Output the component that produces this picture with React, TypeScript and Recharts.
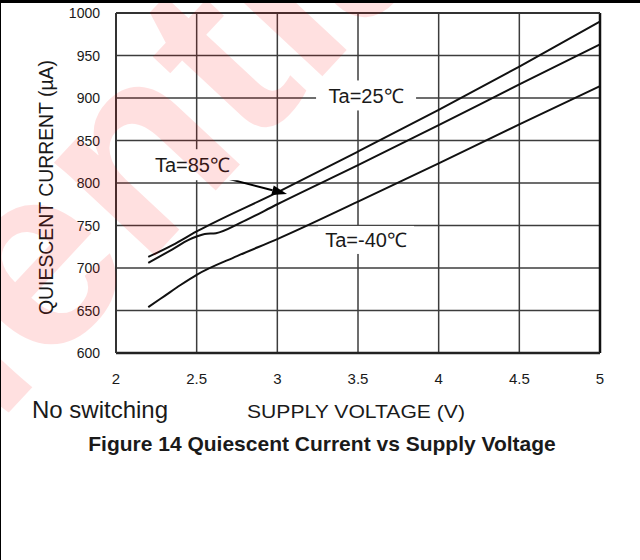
import React from 'react'
import {
  CartesianGrid,
  Line,
  LineChart,
  ReferenceDot,
  ReferenceLine,
  XAxis,
  YAxis,
} from 'recharts'

// 电压 (V) / 静态电流 (µA)
const volt85 = [2.2, 2.35, 2.5, 3.0, 3.5, 4.0, 4.5, 5.0]
const curr85 = [713, 727, 743, 789, 837, 886, 937, 990]

const volt25 = [2.2, 2.35, 2.45, 2.5, 2.55, 2.62, 2.77, 3.0, 3.5, 4.0, 4.5, 5.0]
const curr25 = [706, 722, 733, 737, 740, 741, 753, 775, 821, 868, 916, 963]

const voltM40 = [2.2, 2.3, 2.4, 2.5, 2.75, 3.0, 3.5, 4.0, 4.5, 5.0]
const currM40 = [654, 667, 680, 692, 714, 734, 778, 823, 869, 914]

const xTicks = [2, 2.5, 3, 3.5, 4, 4.5, 5]
const yTicks = [600, 650, 700, 750, 800, 850, 900, 950, 1000]

const FONT = '"Liberation Sans", Arial, Helvetica, sans-serif'
const INK = '#1a1a1a'
const GRID = '#3c3c3c'

const toPoints = (xs: number[], ys: number[]) =>
  xs.map((voltage, i) => ({ voltage, current: ys[i] }))

const series = [
  { key: '85', points: toPoints(volt85, curr85) },
  { key: '25', points: toPoints(volt25, curr25) },
  { key: '-40', points: toPoints(voltM40, currM40) },
]

function XTick({ x, y, payload }: any) {
  return (
    <text x={x} y={y + 31} textAnchor="middle" fontSize={15} fill={INK} fontFamily={FONT}>
      {payload.value}
    </text>
  )
}

function YTick({ x, y, payload }: any) {
  return (
    <text x={x - 16} y={y} dy="0.36em" textAnchor="end" fontSize={14} fill={INK} fontFamily={FONT}>
      {payload.value}
    </text>
  )
}

// 白底标注框
function BoxLabel({ cx, cy, text, w, h }: any) {
  return (
    <g>
      <rect x={cx - w / 2} y={cy - h / 2} width={w} height={h} fill="#fff" />
      <text x={cx} y={cy} dy="0.36em" textAnchor="middle" fontSize={20} fill={INK} fontFamily={FONT}>
        {text}
      </text>
    </g>
  )
}

function Arrow({ x1, y1, x2, y2 }: any) {
  const a = Math.atan2(y2 - y1, x2 - x1)
  const len = 15
  const half = 5
  const bx = x2 - len * Math.cos(a)
  const by = y2 - len * Math.sin(a)
  const px = -Math.sin(a) * half
  const py = Math.cos(a) * half
  return (
    <g>
      <line x1={x1} y1={y1} x2={bx} y2={by} stroke="#000" strokeWidth={2} />
      <polygon points={`${x2},${y2} ${bx + px},${by + py} ${bx - px},${by - py}`} fill="#000" />
    </g>
  )
}

export default function App() {
  return (
    <div style={{ position: 'fixed', left: 0, top: 0, width: 640, height: 560, background: '#fff' }}>
      <LineChart width={640} height={560} margin={{ top: 13, right: 40, left: 0, bottom: 0 }}>
        <CartesianGrid stroke={GRID} strokeWidth={1.5} />
        <XAxis
          dataKey="voltage"
          type="number"
          domain={[2, 5]}
          ticks={xTicks}
          height={207}
          tickSize={0}
          tickMargin={0}
          tick={<XTick />}
          axisLine={{ stroke: '#222', strokeWidth: 2.5 }}
          allowDuplicatedCategory={false}
        />
        <YAxis
          type="number"
          domain={[600, 1000]}
          ticks={yTicks}
          width={116}
          tickSize={0}
          tickMargin={0}
          tick={<YTick />}
          axisLine={{ stroke: '#333', strokeWidth: 2 }}
        />
        <ReferenceLine x={5} stroke="#111" strokeWidth={2.5} />
        <ReferenceLine y={1000} stroke="#333" strokeWidth={2} />
        {series.map((s) => (
          <Line
            key={s.key}
            data={s.points}
            dataKey="current"
            type="monotone"
            stroke="#111"
            strokeWidth={2}
            dot={false}
            activeDot={false}
            isAnimationActive={false}
          />
        ))}
        <ReferenceLine
          segment={[
            { x: 2.614, y: 809 },
            { x: 3.06, y: 787 },
          ]}
          shape={(p: any) => <Arrow {...p} />}
        />
        <ReferenceDot
          x={3.55}
          y={903}
          r={1}
          shape={(p: any) => <BoxLabel {...p} text="Ta=25℃" w={100} h={30} />}
        />
        <ReferenceDot
          x={2.474}
          y={821.5}
          r={1}
          shape={(p: any) => <BoxLabel {...p} text="Ta=85℃" w={90} h={31} />}
        />
        <ReferenceDot
          x={3.55}
          y={733}
          r={1}
          shape={(p: any) => <BoxLabel {...p} text="Ta=-40℃" w={96} h={28} />}
        />
      </LineChart>

      <svg
        width={640}
        height={560}
        style={{ position: 'absolute', left: 0, top: 0, pointerEvents: 'none' }}
      >
        <text
          transform="translate(53,187.5) rotate(-90)"
          textAnchor="middle"
          fontSize={20}
          fill={INK}
          fontFamily={FONT}
          textLength={255}
          lengthAdjust="spacingAndGlyphs"
        >
          QUIESCENT CURRENT (µA)
        </text>
        <text x={32} y={418} fontSize={24} fill={INK} fontFamily={FONT}>
          No switching
        </text>
        <text
          x={247}
          y={418}
          fontSize={19}
          fill={INK}
          fontFamily={FONT}
          textLength={218}
          lengthAdjust="spacingAndGlyphs"
        >
          SUPPLY VOLTAGE (V)
        </text>
        <text x={322} y={451} textAnchor="middle" fontSize={21} fontWeight="bold" fill={INK} fontFamily={FONT}>
          Figure 14 Quiescent Current vs Supply Voltage
        </text>
        {/* 水印 */}
        <text
          transform="translate(192,216) rotate(-47)"
          x={-1040}
          fontSize={260}
          fontWeight="bold"
          fill="#ff0000"
          fillOpacity={0.12}
          fontFamily={FONT}
        >
          Confidential
        </text>
        <rect x={0} y={0} width={640} height={3} fill="#000" />
        <rect x={0} y={0} width={1} height={560} fill="#000" />
      </svg>
    </div>
  )
}
